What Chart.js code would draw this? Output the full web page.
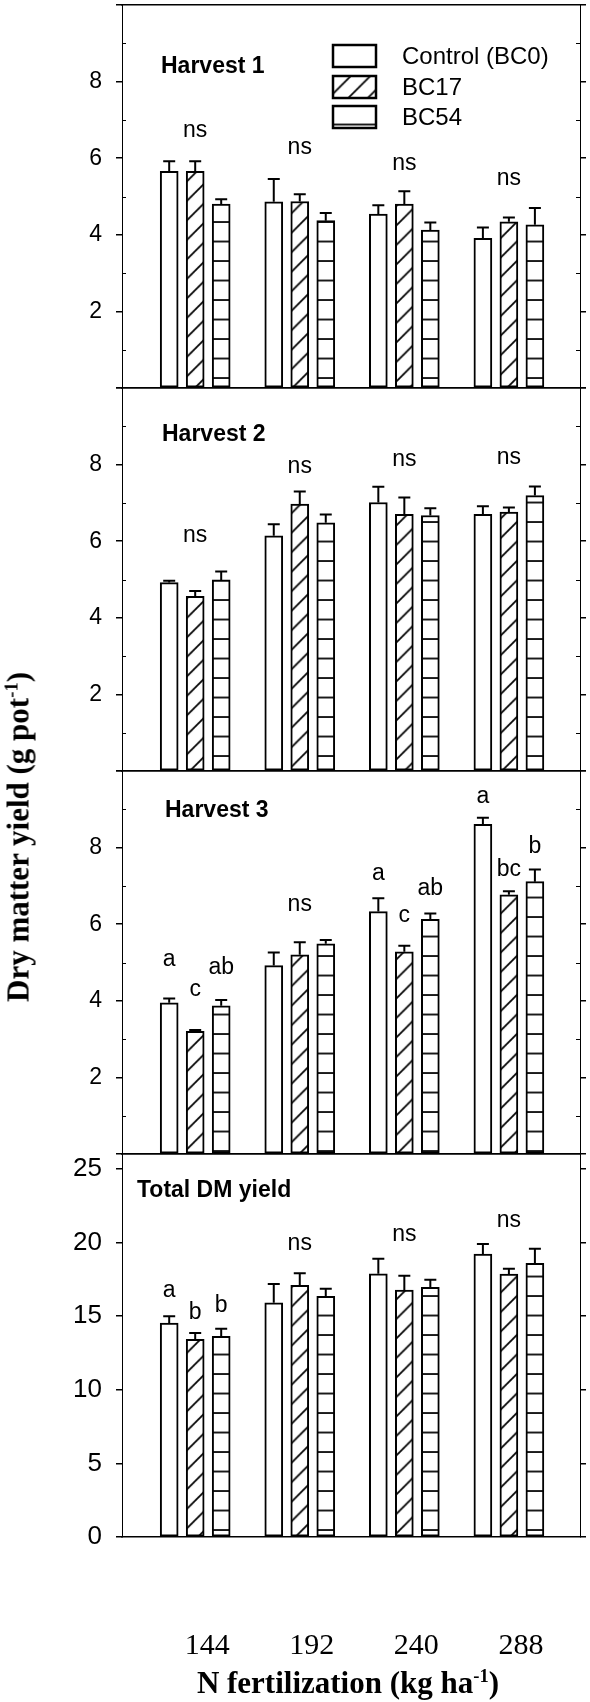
<!DOCTYPE html>
<html lang="en">
<head>
  <meta charset="UTF-8" />
  <title>Dry matter yield by N fertilization</title>
  <script src="https://cdn.jsdelivr.net/npm/chart.js"></script>
  <style>
    body {
      margin: 0;
      width: 590px;
      height: 1702px;
      position: relative;
      overflow: hidden;
      background: #fff;
    }

    .panel {
      position: absolute;
      left: 0;
      width: 590px;
    }

    .ytitle, .xtitle {
      position: absolute;
      font-family: 'Liberation Serif', 'Times New Roman', serif;
      font-weight: bold;
      font-size: 31px;
      line-height: 1;
      white-space: nowrap;
      color: #000;
    }

    .ytitle {
      left: 18px;
      top: 837px;
      transform: translate(-50%, -50%) rotate(-90deg);
    }

    .xtitle {
      left: 348px;
      top: 1667px;
      transform: translateX(-50%);
    }

    sup {
      font-size: 0.6em;
      line-height: 0;
      vertical-align: 0.6em;
    }
  </style>
</head>
<body>
  <div class="panel" id="p0"><canvas id="c0"></canvas></div>
  <div class="panel" id="p1"><canvas id="c1"></canvas></div>
  <div class="panel" id="p2"><canvas id="c2"></canvas></div>
  <div class="panel" id="p3"><canvas id="c3"></canvas></div>

  <div class="ytitle">Dry matter yield (g pot<sup>-1</sup>)</div>
  <div class="xtitle">N fertilization (kg ha<sup>-1</sup>)</div>

  <script>
    // categories and series
    const nRates = ['144', '192', '240', '288'];
    const seriesNames = ['Control (BC0)', 'BC17', 'BC54'];
    const panelTitles = ['Harvest 1', 'Harvest 2', 'Harvest 3', 'Total DM yield'];

    // Harvest 1
    const h1Control = [5.66, 4.86, 4.54, 3.91];
    const h1Bc17 = [5.66, 4.87, 4.80, 4.34];
    const h1Bc54 = [4.80, 4.37, 4.12, 4.26];
    const h1ControlSe = [0.26, 0.60, 0.23, 0.28];
    const h1Bc17Se = [0.26, 0.19, 0.34, 0.11];
    const h1Bc54Se = [0.13, 0.20, 0.20, 0.44];

    // Harvest 2
    const h2Control = [4.92, 6.14, 7.01, 6.70];
    const h2Bc17 = [4.56, 6.97, 6.70, 6.76];
    const h2Bc54 = [4.99, 6.48, 6.67, 7.19];
    const h2ControlSe = [0.05, 0.30, 0.41, 0.21];
    const h2Bc17Se = [0.14, 0.33, 0.44, 0.12];
    const h2Bc54Se = [0.22, 0.22, 0.19, 0.24];

    // Harvest 3
    const h3Control = [3.95, 4.92, 6.33, 8.61];
    const h3Bc17 = [3.20, 5.20, 5.28, 6.77];
    const h3Bc54 = [3.87, 5.49, 6.13, 7.11];
    const h3ControlSe = [0.11, 0.34, 0.35, 0.17];
    const h3Bc17Se = [0.04, 0.33, 0.16, 0.09];
    const h3Bc54Se = [0.15, 0.10, 0.15, 0.32];

    // Total DM yield
    const totControl = [14.52, 15.90, 17.87, 19.21];
    const totBc17 = [13.42, 17.08, 16.76, 17.85];
    const totBc54 = [13.62, 16.33, 16.95, 18.57];
    const totControlSe = [0.46, 1.27, 1.02, 0.68];
    const totBc17Se = [0.43, 0.82, 0.98, 0.36];
    const totBc54Se = [0.52, 0.53, 0.52, 1.00];

    // significance letters: [group, series, text, y value]
    const h1Letters = [[0, 1, 'ns', 6.73], [1, 1, 'ns', 6.28], [2, 1, 'ns', 5.86], [3, 1, 'ns', 5.46]];
    const h2Letters = [[0, 1, 'ns', 6.15], [1, 1, 'ns', 7.95], [2, 1, 'ns', 8.12], [3, 1, 'ns', 8.19]];
    const h3Letters = [
      [0, 0, 'a', 5.07], [0, 1, 'c', 4.30], [0, 2, 'ab', 4.87],
      [1, 1, 'ns', 6.52],
      [2, 0, 'a', 7.32], [2, 1, 'c', 6.22], [2, 2, 'ab', 6.92],
      [3, 0, 'a', 9.34], [3, 1, 'bc', 7.43], [3, 2, 'b', 8.02]
    ];
    const totLetters = [
      [0, 0, 'a', 16.74], [0, 1, 'b', 15.20], [0, 2, 'b', 15.72],
      [1, 1, 'ns', 19.89], [2, 1, 'ns', 20.52], [3, 1, 'ns', 21.47]
    ];

    // y ticks
    const harvestTicks = [0, 2, 4, 6, 8, 10];
    const harvestLabels = ['', '2', '4', '6', '8', ''];
    const harvestMinor = [1, 3, 5, 7, 9];
    const totalTicks = [0, 5, 10, 15, 20, 25];
    const totalLabels = ['0', '5', '10', '15', '20', '25'];

    // layout (page pixels)
    const PAGE_H = 1702;
    const panelTop = [5, 388, 771, 1154];
    const PANEL_H = 383;
    const PAD = 20;
    const X_MIN = 0.3, X_MAX = 4.68;
    const titleX = [161, 162, 165, 137];
    const titleDy = [62, 47, 40, 37];
    const hatchPhase = [10, 15, 3, 7];

    const sansFont = "'Liberation Sans', Arial, sans-serif";
    const serifFont = "'Liberation Serif', 'Times New Roman', serif";

    const panels = [
      { series: [h1Control, h1Bc17, h1Bc54], errors: [h1ControlSe, h1Bc17Se, h1Bc54Se], letters: h1Letters,
        yMax: 10, ticks: harvestTicks, labels: harvestLabels, minor: harvestMinor, tickSize: 23 },
      { series: [h2Control, h2Bc17, h2Bc54], errors: [h2ControlSe, h2Bc17Se, h2Bc54Se], letters: h2Letters,
        yMax: 10, ticks: harvestTicks, labels: harvestLabels, minor: harvestMinor, tickSize: 23 },
      { series: [h3Control, h3Bc17, h3Bc54], errors: [h3ControlSe, h3Bc17Se, h3Bc54Se], letters: h3Letters,
        yMax: 10, ticks: harvestTicks, labels: harvestLabels, minor: harvestMinor, tickSize: 23 },
      { series: [totControl, totBc17, totBc54], errors: [totControlSe, totBc17Se, totBc54Se], letters: totLetters,
        yMax: 26, ticks: totalTicks, labels: totalLabels, minor: [], tickSize: 26 }
    ];

    // hatch patterns (white background, black lines)
    const patternCtx = document.createElement('canvas').getContext('2d');
    function makeFill(kind, shift) {
      if (kind === 'none') return '#fff';
      const c = document.createElement('canvas');
      c.width = 20; c.height = 20;
      const g = c.getContext('2d');
      g.fillStyle = '#fff';
      g.fillRect(0, 0, 20, 20);
      g.strokeStyle = '#000';
      g.lineWidth = 1.8;
      g.beginPath();
      if (kind === 'diag') {
        g.moveTo(0, 20); g.lineTo(20, 0);
        g.moveTo(-10, 10); g.lineTo(10, -10);
        g.moveTo(10, 30); g.lineTo(30, 10);
      } else {
        g.moveTo(0, 10); g.lineTo(20, 10);
      }
      g.stroke();
      const pat = patternCtx.createPattern(c, 'repeat');
      pat.setTransform(new DOMMatrix().translate(0, shift).scale(0.975));
      return pat;
    }

    const errorBars = {
      id: 'errorBars',
      afterDatasetsDraw(chart) {
        const ctx = chart.ctx;
        const y = chart.scales.y;
        ctx.save();
        ctx.strokeStyle = '#000';
        ctx.lineWidth = 2;
        chart.data.datasets.forEach((ds, di) => {
          chart.getDatasetMeta(di).data.forEach((bar, g) => {
            const top = y.getPixelForValue(ds.data[g].y + ds.errors[g]);
            ctx.beginPath();
            ctx.moveTo(bar.x, bar.y);
            ctx.lineTo(bar.x, top);
            ctx.moveTo(bar.x - 6, top);
            ctx.lineTo(bar.x + 6, top);
            ctx.stroke();
          });
        });
        ctx.restore();
      }
    };

    function makeDecor(i, fills) {
      const p = panels[i];
      return {
        id: 'decor' + i,
        afterDraw(chart) {
          const ctx = chart.ctx;
          const area = chart.chartArea;
          const y = chart.scales.y;
          ctx.save();

          // minor ticks, pointing inward on both sides
          ctx.strokeStyle = '#000';
          ctx.lineWidth = 1;
          p.minor.forEach(v => {
            const py = Math.round(y.getPixelForValue(v)) + 0.5;
            ctx.beginPath();
            ctx.moveTo(area.left, py); ctx.lineTo(area.left + 4, py);
            ctx.moveTo(area.right - 4, py); ctx.lineTo(area.right, py);
            ctx.stroke();
          });

          // panel title
          ctx.fillStyle = '#000';
          ctx.font = 'bold 23px ' + sansFont;
          ctx.textAlign = 'left';
          ctx.textBaseline = 'middle';
          ctx.fillText(panelTitles[i], titleX[i], area.top + titleDy[i]);

          // significance letters
          ctx.font = '23px ' + sansFont;
          ctx.textAlign = 'center';
          p.letters.forEach(([g, s, text, v]) => {
            const bx = chart.getDatasetMeta(s).data[g].x;
            ctx.fillText(text, bx, y.getPixelForValue(v));
          });

          // legend in the first panel
          if (i === 0) {
            ctx.font = '24px ' + sansFont;
            ctx.textAlign = 'left';
            const boxTops = [40, 71, 101];
            seriesNames.forEach((name, s) => {
              const bx = area.left + 211, by = area.top + boxTops[s];
              ctx.fillStyle = fills[s];
              ctx.fillRect(bx, by, 43, 22);
              ctx.strokeStyle = '#000';
              ctx.lineWidth = 2.5;
              ctx.strokeRect(bx, by, 43, 22);
              ctx.fillStyle = '#000';
              ctx.fillText(name, area.left + 280, by + 12);
            });
          }
          ctx.restore();
        }
      };
    }

    function noPadding(s) {
      s.paddingLeft = 0;
      s.paddingRight = 0;
      s.paddingTop = 0;
      s.paddingBottom = 0;
    }

    function buildChart(i) {
      const p = panels[i];
      const last = i === panels.length - 1;
      const wrapTop = panelTop[i] - PAD;
      const wrap = document.getElementById('p' + i);
      wrap.style.top = wrapTop + 'px';
      wrap.style.height = (last ? PAGE_H - wrapTop : PANEL_H + 2 * PAD) + 'px';

      const lineY = PAD + PANEL_H - hatchPhase[i];
      const fills = [makeFill('none', 0), makeFill('diag', lineY - 9.75), makeFill('hline', lineY - 9.75)];

      new Chart(document.getElementById('c' + i), {
        type: 'bar',
        data: {
          datasets: p.series.map((vals, s) => ({
            label: seriesNames[s],
            data: vals.map((v, g) => ({ x: g + 1, y: v })),
            errors: p.errors[s],
            backgroundColor: fills[s],
            borderColor: '#000',
            borderWidth: 2,
            borderSkipped: false,
            barThickness: 26,
            maxBarThickness: 18,
            xAxisID: 'x',
            yAxisID: 'y'
          }))
        },
        options: {
          responsive: true,
          maintainAspectRatio: false,
          animation: false,
          layout: { padding: { top: PAD, bottom: last ? 0 : PAD, left: 0, right: 0 } },
          plugins: {
            legend: { display: false },
            tooltip: { enabled: false }
          },
          scales: {
            x: {
              type: 'linear',
              position: 'bottom',
              offset: false,
              min: X_MIN,
              max: X_MAX,
              grid: { display: false, offset: false },
              border: { display: true, color: '#000', width: 1.5 },
              ticks: {
                display: last,
                color: '#000',
                font: { family: serifFont, size: 30 },
                padding: 83,
                labelOffset: 12,
                maxRotation: 0,
                callback: (v) => nRates[Math.round(v) - 1]
              },
              afterBuildTicks: (s) => { s.ticks = nRates.map((_, k) => ({ value: k + 1 })); },
              afterFit: (s) => {
                s.height = last ? PAGE_H - (panelTop[i] + PANEL_H) : 0;
                noPadding(s);
              }
            },
            x2: {
              type: 'linear',
              position: 'top',
              offset: false,
              min: X_MIN,
              max: X_MAX,
              grid: { display: false },
              border: { display: true, color: '#000', width: 1.5 },
              ticks: { display: false },
              afterFit: (s) => { s.height = 0; noPadding(s); }
            },
            y: {
              type: 'linear',
              position: 'left',
              min: 0,
              max: p.yMax,
              grid: { display: true, drawOnChartArea: false, drawTicks: true, tickLength: 6, color: '#000', lineWidth: 1.5 },
              border: { display: true, color: '#000', width: 1 },
              ticks: {
                color: '#000',
                font: { family: sansFont, size: p.tickSize },
                padding: 14,
                callback: (v, k) => p.labels[k]
              },
              afterBuildTicks: (s) => { s.ticks = p.ticks.map(v => ({ value: v })); },
              afterFit: (s) => { s.width = 122; noPadding(s); }
            },
            y2: {
              type: 'linear',
              position: 'right',
              min: 0,
              max: p.yMax,
              grid: { display: true, drawOnChartArea: false, drawTicks: true, tickLength: 6, color: '#000', lineWidth: 1.5 },
              border: { display: true, color: '#000', width: 1 },
              ticks: { display: false },
              afterBuildTicks: (s) => { s.ticks = p.ticks.map(v => ({ value: v })); },
              afterFit: (s) => { s.width = 10; noPadding(s); }
            }
          }
        },
        plugins: [errorBars, makeDecor(i, fills)]
      });
    }

    panels.forEach((_, i) => buildChart(i));
  </script>
</body>
</html>
